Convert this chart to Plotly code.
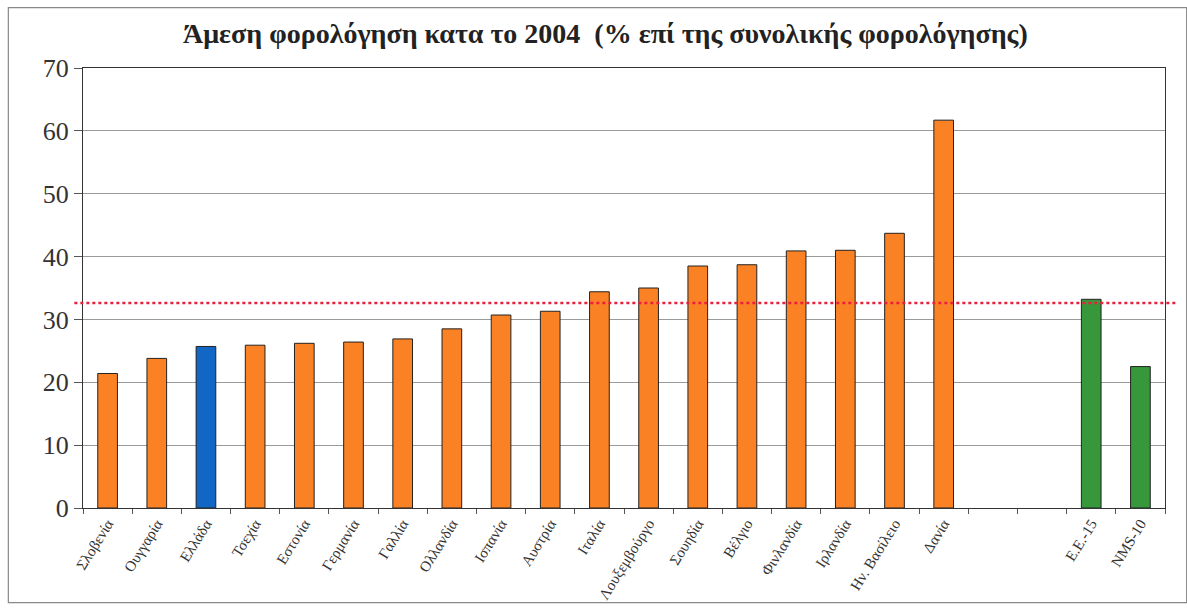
import plotly.graph_objects as go

# Direct taxation in 2004, % of total taxation
countries = ["Σλοβενία", "Ουγγαρία", "Ελλάδα", "Τσεχία", "Εστονία", "Γερμανία",
             "Γαλλία", "Ολλανδία", "Ισπανία", "Αυστρία", "Ιταλία", "Λουξεμβούργο",
             "Σουηδία", "Βέλγιο", "Φινλανδία", "Ιρλανδία", "Ην. Βασίλειο", "Δανία"]
country_values = [21.4, 23.8, 25.7, 25.9, 26.2, 26.4, 26.9, 28.5, 30.7, 31.3,
                  34.4, 35.0, 38.5, 38.7, 40.9, 41.0, 43.7, 61.7]
spacers = [" ", "  "]
aggregates = ["E.E.-15", "NMS-10"]
aggregate_values = [33.2, 22.5]
reference_level = 32.6

ORANGE = "#FB8224"
BLUE = "#1367C4"
GREEN = "#36983A"

categories = countries + spacers + aggregates
values = country_values + [None, None] + aggregate_values
colors = [BLUE if c == "Ελλάδα" else ORANGE for c in countries] + [ORANGE, ORANGE] + [GREEN, GREEN]

fig = go.Figure()
fig.add_trace(go.Bar(
    x=categories, y=values,
    marker=dict(color=colors, line=dict(color="#222222", width=1)),
    width=0.4,
    hoverinfo="x+y",
))

# Reference level line across the plot
fig.add_shape(type="line", xref="paper", yref="y",
              x0=-0.008, x1=1.012, y0=reference_level, y1=reference_level,
              line=dict(color="#E8203C", width=2.5, dash="dot"), layer="above")

# Outer frame of the chart
fig.add_shape(type="rect", xref="paper", yref="paper",
              x0=-0.069, x1=1.02, y0=-0.215, y1=1.137,
              line=dict(color="#888888", width=1.2))

serif = "Liberation Serif"

fig.update_layout(
    width=1187, height=608,
    margin=dict(l=83, r=22, t=68, b=100),
    paper_bgcolor="white", plot_bgcolor="white",
    showlegend=False,
    bargap=0.6,
    title=dict(text="<b>Άμεση φορολόγηση κατα το 2004  (% επί της συνολικής φορολόγησης)</b>",
               x=0.51, xanchor="center", y=0.945, yanchor="middle",
               font=dict(family=serif, size=28, color="#222222")),
    xaxis=dict(
        type="category", categoryorder="array", categoryarray=categories,
        tickangle=-58, tickson="boundaries", ticks="outside", ticklen=5,
        tickcolor="#555555", automargin=False,
        tickfont=dict(family=serif, size=15, color="#333333"),
        showline=True, linecolor="#333333", linewidth=1, mirror=True,
        showgrid=False,
    ),
    yaxis=dict(
        range=[0, 70], tickvals=[0, 10, 20, 30, 40, 50, 60, 70],
        ticks="outside", ticklen=8, tickcolor="#555555", automargin=False,
        tickfont=dict(family=serif, size=26, color="#333333"),
        showline=True, linecolor="#333333", linewidth=1, mirror=True,
        showgrid=True, gridcolor="#9a9a9a", gridwidth=1,
        zeroline=False,
    ),
)

fig.write_html("out.html")
